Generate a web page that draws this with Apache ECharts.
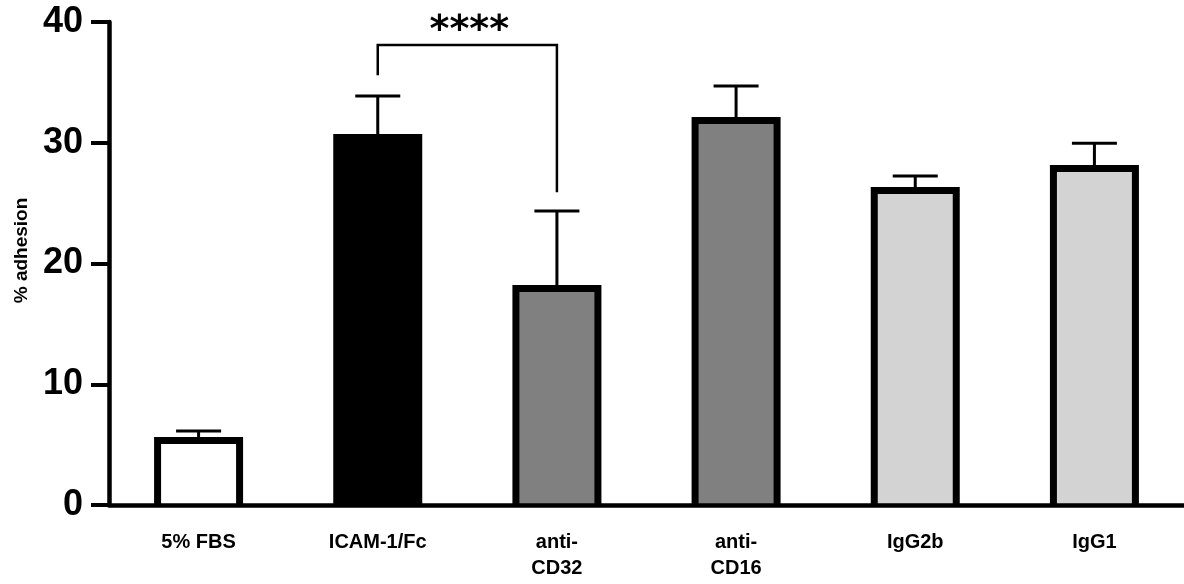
<!DOCTYPE html>
<html>
<head>
<meta charset="utf-8">
<script src="https://cdn.jsdelivr.net/npm/echarts@6/dist/echarts.min.js"></script>
<style>
    html, body { margin: 0; padding: 0; background: #fff; }
    #chart { width: 1184px; height: 584px; }
</style>
</head>
<body>
<div id="chart"></div>
<script>
// data
const categories = ['5% FBS', 'ICAM-1/Fc', 'anti-\nCD32', 'anti-\nCD16', 'IgG2b', 'IgG1'];
const adhesion = [5.34, 30.43, 17.93, 31.84, 26.05, 27.87];
const errors = [0.79, 3.45, 6.42, 2.86, 1.2, 2.08];
const yTicks = [0, 10, 20, 30, 40];

// significance bracket between ICAM-1/Fc and anti-CD32
const bracketPair = [1, 2];
const bracketTop = 38.1;
const bracketLegs = [35.6, 25.9];
const bracketText = '****';

const barColors = ['#ffffff', '#000000', '#808080', '#808080', '#d3d3d3', '#d3d3d3'];
const font = "'Liberation Sans', Arial, sans-serif";

const chart = echarts.init(document.getElementById('chart'));

const option = {
    animation: false,
    grid: {
        left: 109,
        right: -5,
        top: 22,
        bottom: 79,
    },
    xAxis: {
        type: 'category',
        data: categories,
        z: 5,
        axisLine: { lineStyle: { color: '#000', width: 4.5 } },
        axisTick: { alignWithLabel: true, length: 18, lineStyle: { color: '#000', width: 4 } },
        axisLabel: {
            color: '#000',
            fontFamily: font,
            fontWeight: 'bold',
            fontSize: 20,
            lineHeight: 26,
            margin: 24,
        },
    },
    yAxis: {
        type: 'value',
        min: yTicks[0],
        max: yTicks[yTicks.length - 1],
        interval: 10,
        name: '% adhesion',
        nameLocation: 'middle',
        nameGap: 78,
        nameTextStyle: {
            color: '#000',
            fontFamily: font,
            fontWeight: 'bold',
            fontSize: 19,
            padding: [0, 0, 0, 26],
        },
        splitLine: { show: false },
        axisLine: { show: true, lineStyle: { color: '#000', width: 4.5 } },
        axisTick: { show: true, length: 18, lineStyle: { color: '#000', width: 4 } },
        axisLabel: {
            color: '#000',
            fontFamily: font,
            fontWeight: 'bold',
            fontSize: 36,
            margin: 26,
        },
    },
    series: [
        {
            // error bars drawn first so the bar border covers the stem base
            type: 'custom',
            z: 1,
            clip: false,
            data: adhesion.map((v, i) => [i, v, errors[i]]),
            encode: { x: 0, y: 1 },
            renderItem(params, api) {
                const idx = api.value(0);
                const mean = api.value(1);
                const err = api.value(2);
                const base = api.coord([idx, mean]);
                const top = api.coord([idx, mean + err]);
                const half = 22.5;
                const style = { stroke: '#000', lineWidth: 3 };
                return {
                    type: 'group',
                    children: [
                        { type: 'line', shape: { x1: base[0], y1: base[1], x2: top[0], y2: top[1] }, style },
                        { type: 'line', shape: { x1: top[0] - half, y1: top[1], x2: top[0] + half, y2: top[1] }, style },
                    ],
                };
            },
        },
        {
            // bars: open at the bottom, so only the axis line shows there
            type: 'custom',
            z: 2,
            clip: false,
            data: adhesion.map((v, i) => [i, v]),
            encode: { x: 0, y: 1 },
            renderItem(params, api) {
                const idx = api.value(0);
                const top = api.coord([idx, api.value(1)]);
                const base = api.coord([idx, 0]);
                const half = 41;
                const x0 = top[0] - half;
                const x1 = top[0] + half;
                return {
                    type: 'group',
                    children: [
                        {
                            type: 'rect',
                            shape: { x: x0, y: top[1], width: x1 - x0, height: base[1] - top[1] },
                            style: { fill: barColors[idx] },
                        },
                        {
                            type: 'polyline',
                            shape: { points: [[x0, base[1]], [x0, top[1]], [x1, top[1]], [x1, base[1]]] },
                            style: { stroke: '#000', lineWidth: 7, fill: null, lineJoin: 'miter' },
                        },
                    ],
                };
            },
        },
        {
            type: 'custom',
            z: 3,
            clip: false,
            data: [[bracketPair[0], bracketTop]],
            encode: { x: 0, y: 1 },
            renderItem(params, api) {
                const l0 = api.coord([bracketPair[0], bracketLegs[0]]);
                const l1 = api.coord([bracketPair[0], bracketTop]);
                const r1 = api.coord([bracketPair[1], bracketTop]);
                const r0 = api.coord([bracketPair[1], bracketLegs[1]]);
                return {
                    type: 'group',
                    children: [
                        {
                            type: 'polyline',
                            shape: { points: [l0, l1, r1, r0] },
                            style: { stroke: '#000', lineWidth: 2.5, fill: null },
                        },
                        {
                            type: 'text',
                            x: (l1[0] + r1[0]) / 2 + 2,
                            y: l1[1] - 14,
                            style: {
                                text: bracketText,
                                fill: '#000',
                                font: "bold 38px 'DejaVu Sans'",
                                align: 'center',
                                verticalAlign: 'middle',
                            },
                        },
                    ],
                };
            },
        },
    ],
};

chart.setOption(option);
</script>
</body>
</html>
